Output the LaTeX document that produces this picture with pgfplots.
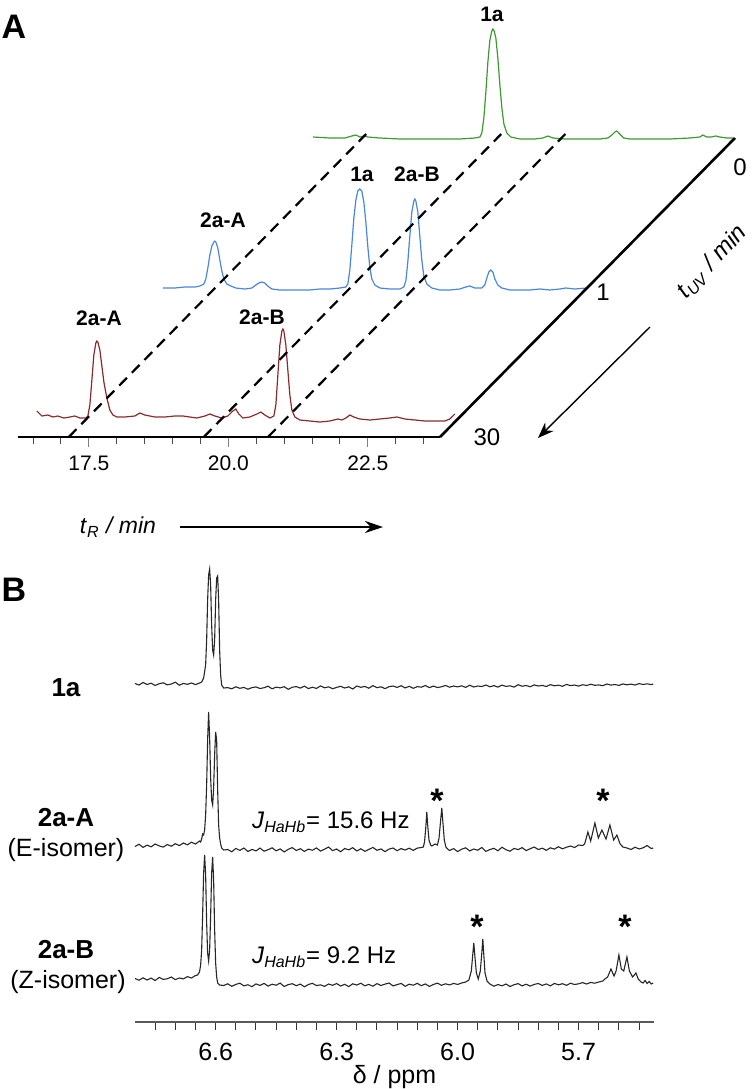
\documentclass[border=0pt]{standalone}
\usepackage{fontspec}
\setmainfont{Liberation Sans}
\usepackage{pgfplots}
\pgfplotsset{compat=1.18}
\usetikzlibrary{arrows.meta}
\definecolor{trred}{HTML}{8A2B2B}
\definecolor{trblue}{HTML}{4A86E0}
\definecolor{trgreen}{HTML}{3E9A30}
\definecolor{nmr}{HTML}{262626}
\begin{document}
\begin{tikzpicture}
\useasboundingbox (0,0) rectangle (376.5pt,-544.5pt);
% ================= PANEL A =================
\begin{axis}[at={(9pt,-218.5pt)}, anchor=south west, scale only axis,
  width=358.5pt, height=213.5pt, xmin=16.23, xmax=29.08, ymin=0, ymax=427,
  axis lines=none, clip=false]
% red trace, t_UV = 30 min
\addplot[trred, line width=0.6pt] table[x expr=\thisrowno{0}+0.3351, y expr=\thisrowno{1}+19] {
16.233 7
16.323 2
16.430 3
16.520 1
16.609 2
16.717 0
16.824 1
16.914 2
17.004 0
17.111 0
17.147 2
17.183 13
17.219 38
17.254 63
17.290 75
17.308 77
17.326 76
17.362 68
17.398 52
17.434 36
17.487 20
17.541 8
17.595 3
17.667 1
17.810 1
17.989 2
18.079 5
18.168 3
18.348 1
18.527 1
18.706 2
18.849 2
18.975 1
19.100 0
19.244 2
19.333 4
19.423 2
19.548 0
19.656 2
19.745 7
19.799 9
19.853 4
19.925 0
20.050 1
20.176 4
20.247 6
20.319 3
20.409 0
20.480 2
20.516 13
20.552 43
20.588 73
20.624 87
20.642 89
20.659 87
20.695 73
20.731 48
20.767 23
20.803 8
20.857 1
20.946 -2
21.125 -3
21.305 -4
21.484 -3
21.627 -1
21.699 -2
21.771 0
21.842 3
21.914 1
22.022 -1
22.201 -2
22.380 -1
22.559 0
22.685 1
22.828 -1
23.007 -2
23.186 -3
23.366 -3
23.545 -3
23.634 -1
23.724 4
};
% blue trace, t_UV = 1 min
\addplot[trblue, line width=0.6pt] table[x expr=\thisrowno{0}+2.634, y expr=\thisrowno{1}+149] {
16.192 0
16.407 0
16.586 1
16.765 1
16.855 2
16.927 4
16.962 9
16.998 20
17.034 33
17.070 42
17.106 46
17.124 47
17.142 46
17.177 40
17.213 28
17.249 17
17.285 9
17.339 4
17.410 2
17.500 0
17.661 -1
17.787 0
17.858 3
17.912 5
17.966 6
18.020 5
18.073 2
18.145 -1
18.289 -2
18.468 -2
18.647 -2
18.826 -2
19.005 -1
19.185 -1
19.364 0
19.471 1
19.507 4
19.543 18
19.579 43
19.615 70
19.651 88
19.686 97
19.722 99
19.758 97
19.794 86
19.830 66
19.866 41
19.901 21
19.937 9
19.991 3
20.081 0
20.260 -1
20.439 -1
20.511 1
20.547 7
20.582 26
20.618 52
20.654 76
20.690 87
20.708 89
20.726 87
20.762 76
20.797 52
20.833 28
20.869 12
20.923 4
21.013 0
21.156 -2
21.335 -2
21.514 -1
21.622 1
21.694 2
21.783 0
21.909 0
21.962 3
21.998 10
22.034 16
22.070 18
22.106 16
22.142 9
22.195 3
22.267 0
22.410 -2
22.590 -2
22.769 -2
22.948 -1
23.127 -2
23.306 -1
23.414 0
23.575 -1
23.790 0
};
% green trace, t_UV = 0 min
\addplot[trgreen, line width=0.6pt] table[x expr=\thisrowno{0}+5.287, y expr=\thisrowno{1}+299] {
16.228 1
16.532 0
16.801 0
16.927 2
16.998 3
17.070 1
17.142 2
17.213 1
17.428 0
17.787 -1
18.145 -1
18.504 -1
18.862 -1
19.131 0
19.220 1
19.256 5
19.292 20
19.328 46
19.364 76
19.400 98
19.435 107
19.453 109
19.471 108
19.507 100
19.543 80
19.579 53
19.615 30
19.651 14
19.704 5
19.776 1
19.937 -1
20.206 -1
20.349 0
20.439 2
20.529 0
20.744 -1
21.012 -1
21.371 -1
21.514 0
21.586 3
21.640 6
21.676 7
21.729 4
21.801 0
21.909 -1
22.267 -1
22.625 -1
22.984 0
23.163 1
23.217 3
23.288 1
23.360 1
23.450 2
23.521 1
23.647 0
23.754 0
};
% depth axis and guide lines
\draw[black, line width=1.3pt] (axis cs:23.793,0) -- (axis cs:29.08,299);
\draw[black, line width=1.1pt, dash pattern=on 5.5pt off 3.5pt] (axis cs:17.14,0) -- (axis cs:22.47,303);
\draw[black, line width=1.1pt, dash pattern=on 5.5pt off 3.5pt] (axis cs:19.56,0) -- (axis cs:24.89,303);
\draw[black, line width=1.1pt, dash pattern=on 5.5pt off 3.5pt] (axis cs:20.71,0) -- (axis cs:26.04,303);
\end{axis}
% front retention-time axis
\begin{axis}[at={(9pt,-218.5pt)}, anchor=south west, scale only axis,
  width=211pt, height=20pt, xmin=16.23, xmax=23.793, ymin=0, ymax=1,
  axis x line*=bottom, axis y line=none,
  axis line style={line width=1.4pt, black},
  xtick={17.5,20,22.5},
  minor xtick={16.5,17,18,18.5,19,19.5,20.5,21,21.5,22,23,23.5},
  tick align=outside, major tick length=5pt, minor tick length=3.5pt,
  every major tick/.style={gray, line width=0.6pt},
  every minor tick/.style={black!70, line width=0.5pt},
  /pgf/number format/assume math mode=true,
  xticklabel style={font=\fontsize{10.5}{12}\selectfont, yshift=-1pt, /pgf/number format/.cd, fixed, fixed zerofill, precision=1},
  ]
\addplot[draw=none] coordinates {(17,0.5)};
\end{axis}
% panel A texts
\node[font=\fontsize{17}{17}\selectfont\bfseries] at (7pt,-13.5pt) {A};
\node[font=\fontsize{10.5}{12}\selectfont\bfseries] at (246pt,-7pt) {1a};
\node[font=\fontsize{10.5}{12}\selectfont\bfseries] at (111.5pt,-110pt) {2a-A};
\node[font=\fontsize{10.5}{12}\selectfont\bfseries] at (181pt,-87pt) {1a};
\node[font=\fontsize{10.5}{12}\selectfont\bfseries] at (208.5pt,-87pt) {2a-B};
\node[font=\fontsize{10.5}{12}\selectfont\bfseries] at (49.5pt,-159pt) {2a-A};
\node[font=\fontsize{10.5}{12}\selectfont\bfseries] at (131pt,-158.5pt) {2a-B};
\node[font=\fontsize{12}{12}\selectfont] at (370pt,-83.5pt) {0};
\node[font=\fontsize{12}{12}\selectfont] at (301.5pt,-146pt) {1};
\node[font=\fontsize{12}{12}\selectfont] at (243.5pt,-218.5pt) {30};
\node[font=\fontsize{12}{12}\selectfont, rotate=47, inner sep=0pt] at (356pt,-131pt) {\textit{t}\textsubscript{\textit{UV}}\textit{ / min}};
\draw[-{Stealth[length=8pt,width=6pt]}, line width=0.7pt] (325pt,-163.5pt) -- (269pt,-219pt);
\node[font=\fontsize{11.5}{12}\selectfont] at (59pt,-263.5pt) {\textit{t}\textsubscript{\textit{R}}\textit{ / min}};
\draw[-{Stealth[length=9pt,width=6pt]}, line width=0.8pt] (90pt,-263.5pt) -- (191.5pt,-263.5pt);
% ================= PANEL B =================
\begin{axis}[at={(67.5pt,-511pt)}, anchor=south west, scale only axis,
  width=259.5pt, height=236pt, xmin=5.513, xmax=6.80, x dir=reverse,
  ymin=0, ymax=472, clip=false,
  axis x line*=bottom, axis y line=none,
  axis line style={line width=1.1pt, black!65},
  xtick={5.7,6.0,6.3,6.6},
  minor xtick={5.55,5.6,5.65,5.75,5.8,5.85,5.9,5.95,6.05,6.1,6.15,6.2,6.25,6.35,6.4,6.45,6.5,6.55,6.65,6.7,6.75},
  tick align=outside, major tick length=4pt, minor tick length=4pt,
  every major tick/.style={black!80, line width=0.5pt},
  every minor tick/.style={black!80, line width=0.5pt},
  /pgf/number format/assume math mode=true,
  xticklabel style={font=\fontsize{12.5}{13}\selectfont, yshift=-3pt, /pgf/number format/.cd, fixed, fixed zerofill, precision=1},
  xlabel={δ / ppm},
  x label style={font=\fontsize{12.5}{13}\selectfont, at={(axis description cs:0.5,0)}, anchor=center, yshift=-27.5pt},
  ]
% 1a
\addplot[nmr, line width=0.55pt] table[y expr=\thisrowno{1}+334] {
6.80 4.5
6.79 3.0
6.78 5.5
6.77 3.5
6.76 4.8
6.75 2.5
6.74 4.3
6.73 5.2
6.72 3.2
6.71 4.0
6.70 5.8
6.69 2.8
6.68 4.6
6.67 3.7
6.66 5.0
6.65 3.4
6.64 5.0
6.6347 6
6.6298 10
6.6248 23
6.6223 48
6.6199 88
6.6174 113
6.6149 119
6.6124 103
6.6099 63
6.6074 38
6.6050 33
6.6025 48
6.6000 88
6.5975 110
6.5950 112
6.5926 88
6.5901 38
6.5876 13
6.5851 3
6.5801 0
6.57 0.4
6.56 -0.8
6.55 1.2
6.54 -0.3
6.53 0.6
6.52 -1.2
6.51 0.4
6.50 1.1
6.49 -0.5
6.48 0.3
6.47 1.8
6.46 -0.8
6.45 0.9
6.44 0.1
6.43 1.3
6.42 -1.3
6.41 0.8
6.40 1.4
6.39 -0.1
6.38 1.9
6.37 -0.6
6.36 0.8
6.35 -0.4
6.34 2.1
6.33 0.2
6.32 1.2
6.31 -0.7
6.30 0.6
6.29 1.7
6.28 0.0
6.27 1.2
6.26 -1.0
6.25 2.0
6.24 0.7
6.23 1.6
6.22 -0.2
6.21 2.4
6.20 0.3
6.19 1.2
6.18 -0.6
6.17 1.3
6.16 2.0
6.15 0.6
6.14 2.3
6.13 0.1
6.12 1.7
6.11 -0.3
6.10 1.4
6.09 0.8
6.08 2.5
6.07 0.4
6.06 1.9
6.05 0.5
6.04 1.2
6.03 2.6
6.02 0.8
6.01 2.0
6.00 1.1
5.99 2.2
5.98 0.6
5.97 2.8
5.96 1.0
5.95 2.0
5.94 1.5
5.93 3.0
5.92 1.2
5.91 2.4
5.90 0.9
5.89 2.9
5.88 1.6
5.87 2.2
5.86 0.9
5.85 3.3
5.84 1.8
5.83 2.5
5.82 1.3
5.81 3.1
5.80 2.0
5.79 2.6
5.78 1.5
5.77 3.4
5.76 2.2
5.75 2.9
5.74 1.7
5.73 3.6
5.72 2.4
5.71 3.0
5.70 1.9
5.69 3.3
5.68 2.5
5.67 3.8
5.66 2.7
5.65 3.1
5.64 2.3
5.63 4.0
5.62 2.9
5.61 3.5
5.60 2.6
5.59 4.1
5.58 3.2
5.57 3.9
5.56 3.0
5.55 4.4
5.54 3.5
5.53 4.2
5.52 3.4
5.515 4.0
};
% 2a-A (E-isomer)
\addplot[nmr, line width=0.55pt] table[y expr=\thisrowno{1}+172] {
6.80 3.5
6.79 5.8
6.78 2.6
6.77 4.9
6.76 3.2
6.75 6.0
6.74 4.1
6.73 2.9
6.72 5.5
6.71 3.8
6.70 6.3
6.69 4.4
6.68 7.0
6.67 5.2
6.66 7.8
6.65 6.0
6.64 9.0
6.6372 8
6.6347 11
6.6323 16
6.6298 15
6.6273 20
6.6248 35
6.6223 65
6.6199 110
6.6174 138
6.6149 112
6.6124 72
6.6099 50
6.6074 45
6.6050 62
6.6025 95
6.6000 118
6.5975 110
6.5950 60
6.5926 25
6.5901 12
6.5876 6
6.5851 2
6.5801 0
6.57 0.5
6.56 -1.8
6.55 1.6
6.54 -0.4
6.53 2.0
6.52 -1.5
6.51 0.6
6.50 -0.9
6.49 1.9
6.48 -1.2
6.47 0.3
6.46 2.2
6.45 -0.8
6.44 1.1
6.43 -1.9
6.42 0.7
6.41 2.4
6.40 -0.5
6.39 1.3
6.38 -1.4
6.37 0.9
6.36 -0.2
6.35 2.1
6.34 -1.1
6.33 0.8
6.32 3.0
6.31 -0.6
6.30 1.0
6.29 -1.7
6.28 1.5
6.27 0.2
6.26 2.3
6.25 -0.9
6.24 1.2
6.23 -1.3
6.22 0.6
6.21 2.6
6.20 -0.3
6.19 1.1
6.18 -1.6
6.17 0.9
6.16 2.0
6.15 -0.7
6.14 1.4
6.13 0.0
6.12 1.8
6.11 -0.4
6.10 1.9
6.09 2.5
6.085 3
6.082 8
6.079 22
6.0764 38
6.074 24
6.071 10
6.067 5
6.064 4
6.060 5
6.056 6
6.050 5
6.046 12
6.042 30
6.0392 42
6.0365 28
6.033 10
6.029 3
6.025 1
6.02 -0.5
6.01 1.4
6.00 -1.6
5.99 0.8
5.98 2.2
5.97 -0.9
5.96 1.0
5.95 -0.2
5.94 2.5
5.93 -1.4
5.92 0.5
5.91 1.7
5.90 -0.8
5.89 2.8
5.88 0.3
5.87 -1.2
5.86 1.6
5.85 0.4
5.84 2.4
5.83 -0.6
5.82 1.3
5.81 3.0
5.80 0.5
5.79 1.8
5.78 -0.3
5.77 2.2
5.76 0.9
5.75 3.3
5.74 1.2
5.73 2.8
5.72 4.0
5.71 2.5
5.70 5.0
5.69 4.5
5.685 6
5.6769 18
5.670 9
5.6595 27
5.651 12
5.6422 20
5.632 11
5.6223 25
5.613 10
5.6050 15
5.597 6
5.59 3
5.58 2.0
5.57 0.5
5.56 2.8
5.55 1.0
5.54 2.2
5.53 4.5
5.52 1.5
5.515 2.0
};
% 2a-B (Z-isomer)
\addplot[nmr, line width=0.55pt] table[y expr=\thisrowno{1}+37] {
6.80 6.5
6.79 4.8
6.78 7.2
6.77 5.0
6.76 6.9
6.75 4.5
6.74 7.6
6.73 5.6
6.72 6.2
6.71 8.0
6.70 5.4
6.69 7.0
6.68 6.1
6.67 8.4
6.66 7.0
6.65 9.5
6.645 10
6.640 13
6.6372 20
6.6347 35
6.6323 70
6.6298 112
6.6273 130
6.6248 110
6.6223 62
6.6199 32
6.6174 24
6.6149 35
6.6124 70
6.6099 112
6.6074 128
6.6050 105
6.6025 55
6.6000 22
6.5975 8
6.5950 2
6.59 0
6.58 -0.5
6.57 1.2
6.56 -1.3
6.55 0.6
6.54 1.8
6.53 -0.9
6.52 0.3
6.51 -1.7
6.50 1.1
6.49 -0.4
6.48 1.6
6.47 -1.1
6.46 0.8
6.45 -0.2
6.44 1.9
6.43 -1.5
6.42 0.4
6.41 1.3
6.40 -0.7
6.39 0.9
6.38 -1.8
6.37 0.5
6.36 1.7
6.35 -0.6
6.34 0.2
6.33 -1.4
6.32 1.0
6.31 -0.3
6.30 1.5
6.29 -1.0
6.28 0.7
6.27 -1.6
6.26 1.2
6.25 0.0
6.24 1.8
6.23 -0.8
6.22 0.6
6.21 -1.2
6.20 1.4
6.19 -0.5
6.18 0.9
6.17 2.0
6.16 -0.9
6.15 0.4
6.14 1.6
6.13 -1.3
6.12 0.8
6.11 -0.2
6.10 1.7
6.09 -0.7
6.08 1.1
6.07 -1.4
6.06 0.5
6.05 1.9
6.04 -0.3
6.03 1.2
6.02 0.1
6.01 1.6
6.00 0.6
5.99 2.0
5.98 3.0
5.972 5
5.966 14
5.9625 30
5.9598 42
5.957 28
5.9535 12
5.9487 6
5.9437 14
5.940 32
5.9375 46
5.935 30
5.932 12
5.927 4
5.92 1
5.91 -1.2
5.90 0.5
5.89 -0.8
5.88 1.0
5.87 -1.5
5.86 0.3
5.85 1.4
5.84 -0.9
5.83 0.8
5.82 -1.1
5.81 0.6
5.80 1.5
5.79 -0.4
5.78 1.1
5.77 -0.9
5.76 1.6
5.75 0.2
5.74 1.3
5.73 -0.3
5.72 1.8
5.71 0.5
5.70 1.2
5.69 2.4
5.68 1.0
5.67 2.6
5.66 1.8
5.65 3.0
5.64 4.0
5.635 6
5.628 8
5.6198 16
5.612 9
5.607 14
5.6000 30
5.594 16
5.588 14
5.5802 28
5.574 14
5.566 8
5.5578 12
5.552 6
5.545 3
5.54 2
5.535 4.5
5.53 1.5
5.525 3.5
5.52 1.0
5.515 2.0
};
\draw[black!35, line width=0.6pt] (axis description cs:0,0) ++(0,3pt) -- ++(259.5pt,0);
\end{axis}
% panel B texts
\node[font=\fontsize{17}{17}\selectfont\bfseries] at (7pt,-295pt) {B};
\node[font=\fontsize{13}{13}\selectfont\bfseries] at (33pt,-344pt) {1a};
\node[font=\fontsize{13}{13}\selectfont\bfseries] at (33pt,-409pt) {2a-A};
\node[font=\fontsize{12.5}{13}\selectfont] at (33pt,-425pt) {(E-isomer)};
\node[font=\fontsize{13}{13}\selectfont\bfseries] at (33pt,-475pt) {2a-B};
\node[font=\fontsize{12.5}{13}\selectfont] at (34pt,-491pt) {(Z-isomer)};
\node[font=\fontsize{12}{12}\selectfont, anchor=west] at (122.5pt,-411pt) {\textit{J}\textsubscript{\textit{HaHb}}= 15.6 Hz};
\node[font=\fontsize{12}{12}\selectfont, anchor=west] at (122.5pt,-478.5pt) {\textit{J}\textsubscript{\textit{HaHb}}= 9.2 Hz};
\node[font=\fontsize{17}{17}\selectfont\bfseries, anchor=base] at (218.5pt,-406pt) {*};
\node[font=\fontsize{17}{17}\selectfont\bfseries, anchor=base] at (301.5pt,-406pt) {*};
\node[font=\fontsize{17}{17}\selectfont\bfseries, anchor=base] at (238.5pt,-469pt) {*};
\node[font=\fontsize{17}{17}\selectfont\bfseries, anchor=base] at (312.5pt,-469pt) {*};
\end{tikzpicture}
\end{document}
